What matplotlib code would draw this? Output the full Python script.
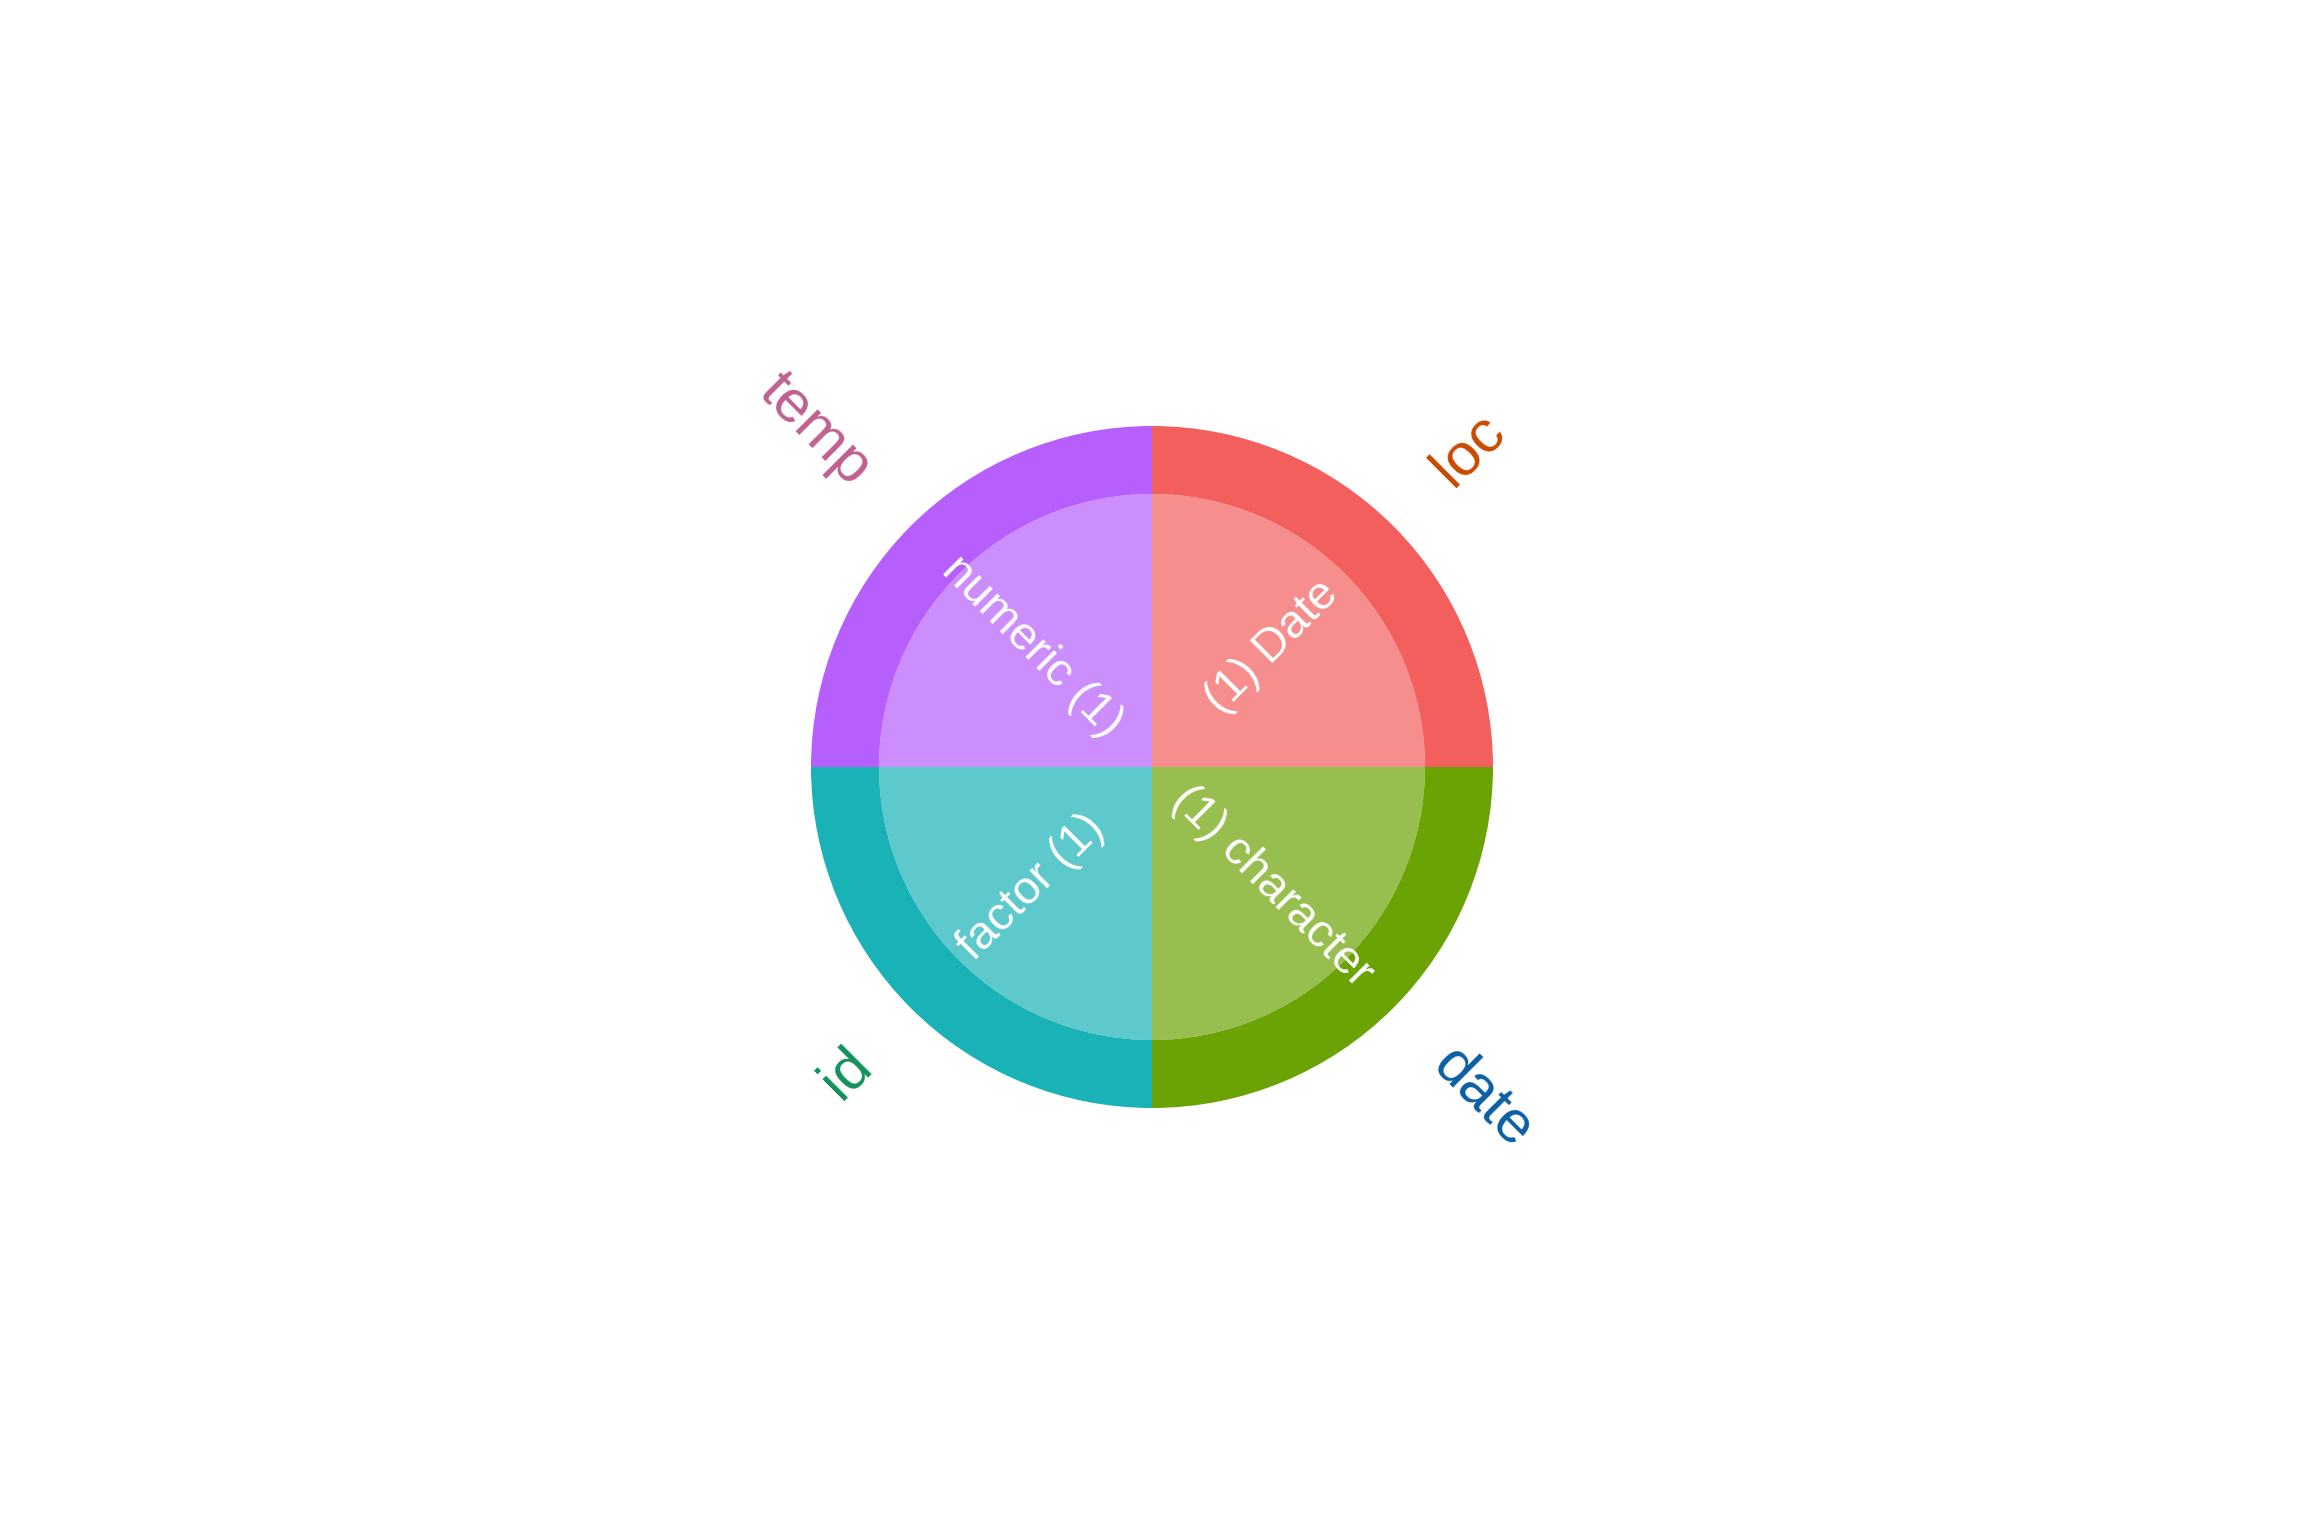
import matplotlib
matplotlib.use("Agg")
import matplotlib.pyplot as plt
import numpy as np

plt.rcParams['font.family'] = ['Liberation Sans', 'DejaVu Sans']

# Data
variables = ["loc", "date", "id", "temp"]
types = ["Date", "character", "factor", "numeric"]
counts = [1, 1, 1, 1]
ring_colors = ["#F25F5C", "#6BA304", "#18B2B7", "#B75FFD"]
label_colors = ["#C84A00", "#0B5EA3", "#12905C", "#C0608F"]
inner_labels = ["(1) Date", "(1) character", "factor (1)", "numeric (1)"]

W, H = 2304, 1536
fig = plt.figure(figsize=(12, 8), dpi=192)
ax = fig.add_axes([0, 0, 1, 1])

cx, cy = 1152, H - 767
R_out, R_in = 341, 273

ax.pie(counts, radius=R_out, center=(cx, cy), colors=ring_colors,
       startangle=90, counterclock=False,
       wedgeprops=dict(width=R_out - R_in, linewidth=0), frame=True)
ax.pie(counts, radius=R_in, center=(cx, cy), colors=ring_colors,
       startangle=90, counterclock=False,
       wedgeprops=dict(linewidth=0, alpha=0.7), frame=True)
ax.set_xlim(0, W)
ax.set_ylim(0, H)
ax.set_aspect('equal')
ax.axis('off')

total = sum(counts)
cum = np.cumsum([0] + counts[:-1])
for i, (v, c) in enumerate(zip(variables, counts)):
    mid = 90 - (cum[i] + c / 2) / total * 360
    th = np.deg2rad(mid)
    ux, uy = np.cos(th), np.sin(th)
    rot = mid
    if rot < -90:
        rot += 180
    if rot > 90:
        rot -= 180
    dx, dy = np.cos(np.deg2rad(rot)), np.sin(np.deg2rad(rot))
    away = (dx * ux + dy * uy) > 0
    ha = 'left' if away else 'right'
    r_lab = 410
    ax.text(cx + r_lab * ux, cy + r_lab * uy, v, rotation=rot,
            rotation_mode='anchor', ha=ha, va='center',
            fontsize=22.5, color=label_colors[i])
    r_in = 170
    ax.text(cx + r_in * ux, cy + r_in * uy, inner_labels[i], rotation=rot,
            rotation_mode='anchor', ha='center', va='center',
            fontsize=17.5, color='white')

fig.savefig("out.png", dpi=192, facecolor='white')
